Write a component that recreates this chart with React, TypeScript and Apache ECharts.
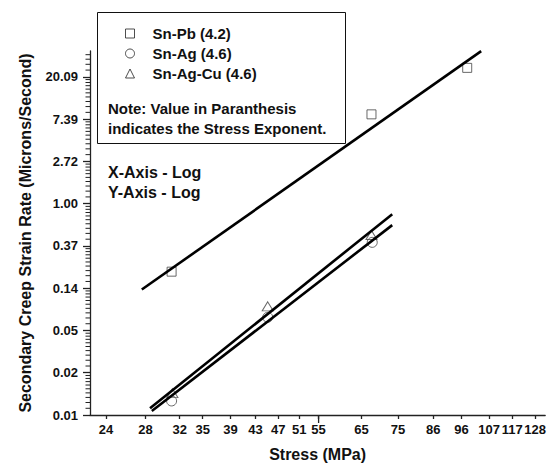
import React, { useEffect, useRef } from "react";
import * as echarts from "echarts";

// Measured creep data (stress in MPa, secondary creep strain rate in microns/second)
const pbStress = [31.0, 67.6, 98.2];
const pbRate = [0.2, 8.26, 24.8];
const agStress = [31.0, 45.1, 67.8];
const agRate = [0.0094, 0.068, 0.4];
const agCuStress = [31.1, 45.1, 67.6];
const agCuRate = [0.0113, 0.088, 0.476];

// Power-law fit lines (end points)
const pbFitStress = [27.6, 103.7];
const pbFitRate = [0.131, 36.9];
const agCuFitStress = [28.5, 73.3];
const agCuFitRate = [0.0079, 0.778];
const agFitStress = [28.7, 73.3];
const agFitRate = [0.0074, 0.601];

// Axis ticks
const xTickLabels = [24, 28, 32, 35, 39, 43, 47, 51, 55, 65, 75, 86, 96, 107, 117, 128];
const xLongTick = [55];
const yTickExponents = [-5, -4, -3, -2, -1, 0, 1, 2, 3];

const seriesNames = ["Sn-Pb (4.2)", "Sn-Ag (4.6)", "Sn-Ag-Cu (4.6)"];

const FONT = "Arial, 'Liberation Sans', Helvetica, sans-serif";

const toLn = (xs: number[], ys: number[]) => xs.map((x, i) => [Math.log(x), Math.log(ys[i])]);

const X_MIN = Math.log(22.55);
const X_MAX = Math.log(133.1);
const Y_MIN = -5;
const Y_MAX = 3.61;

// Linear subdivisions between successive powers of e, in log space
const yMinorTicks: number[] = [];
yTickExponents.forEach((n) => {
  const a = Math.exp(n);
  const b = Math.exp(n + 1);
  for (let j = 1; j <= 9; j++) {
    const t = Math.log(a + (j * (b - a)) / 10);
    if (t <= Y_MAX) yMinorTicks.push(t);
  }
});

export default function App() {
  const ref = useRef<HTMLDivElement>(null);

  useEffect(() => {
    if (!ref.current) return;
    const chart = echarts.init(ref.current, null, { renderer: "svg" });

    const markerStyle = {
      color: "rgba(0,0,0,0)",
      borderColor: "#444",
      borderWidth: 1,
    };
    const fitStyle = { color: "#000", width: 2.6 };
    const tickLabelStyle = {
      color: "#111",
      fontSize: 13,
      fontWeight: "bold" as const,
      fontFamily: FONT,
    };
    const axisLineStyle = { color: "#222", width: 1.3 };

    chart.setOption({
      animation: false,
      backgroundColor: "#fff",
      grid: { left: 90, right: 3, top: 51, bottom: 48, containLabel: false },
      xAxis: {
        type: "value",
        min: X_MIN,
        max: X_MAX,
        position: "bottom",
        name: "Stress (MPa)",
        nameLocation: "middle",
        nameGap: 31,
        nameTextStyle: { color: "#111", fontSize: 16, fontWeight: "bold", fontFamily: FONT },
        axisLine: { show: true, onZero: false, lineStyle: axisLineStyle },
        axisTick: {
          show: true,
          length: 4,
          customValues: xTickLabels.map(Math.log),
          lineStyle: axisLineStyle,
        },
        axisLabel: {
          show: true,
          margin: 8,
          customValues: xTickLabels.map(Math.log),
          formatter: (v: number) => String(Math.round(Math.exp(v))),
          ...tickLabelStyle,
        },
        splitLine: { show: false },
      },
      yAxis: {
        type: "value",
        min: Y_MIN,
        max: Y_MAX,
        position: "left",
        name: "Secondary Creep Strain Rate (Microns/Second)",
        nameLocation: "middle",
        nameGap: 57,
        nameTextStyle: { color: "#111", fontSize: 16, fontWeight: "bold", fontFamily: FONT },
        axisLine: { show: true, onZero: false, lineStyle: axisLineStyle },
        axisTick: {
          show: true,
          length: 7,
          customValues: yTickExponents,
          lineStyle: axisLineStyle,
        },
        axisLabel: {
          show: true,
          margin: 12,
          customValues: yTickExponents,
          formatter: (v: number) => Math.exp(v).toFixed(2),
          ...tickLabelStyle,
        },
        splitLine: { show: false },
      },
      legend: {
        orient: "vertical",
        left: 125,
        top: 26,
        padding: 0,
        itemWidth: 9,
        itemHeight: 9,
        itemGap: 5,
        selectedMode: false,
        textStyle: {
          color: "#111",
          fontSize: 15,
          fontWeight: "bold",
          fontFamily: FONT,
          lineHeight: 14,
          padding: [0, 0, 0, 13],
        },
        data: [
          { name: seriesNames[0], icon: "rect", itemStyle: { color: "#fff", borderColor: "#222", borderWidth: 1 } },
          { name: seriesNames[1], icon: "circle", itemStyle: { color: "#fff", borderColor: "#222", borderWidth: 1 } },
          { name: seriesNames[2], icon: "triangle", itemStyle: { color: "#fff", borderColor: "#222", borderWidth: 1 } },
        ],
      },
      graphic: [
        {
          type: "rect",
          shape: { x: 97.5, y: 12.5, width: 248, height: 131 },
          style: { fill: "none", stroke: "#111", lineWidth: 1 },
          silent: true,
        },
        {
          type: "text",
          x: 108,
          y: 108,
          style: {
            text: "Note: Value in Paranthesis",
            fill: "#111",
            font: `bold 15px ${FONT}`,
            verticalAlign: "middle",
          },
        },
        {
          type: "text",
          x: 108,
          y: 128,
          style: {
            text: "indicates the Stress Exponent.",
            fill: "#111",
            font: `bold 15px ${FONT}`,
            verticalAlign: "middle",
          },
        },
        {
          type: "text",
          x: 108,
          y: 172,
          style: { text: "X-Axis - Log", fill: "#111", font: `bold 16px ${FONT}`, verticalAlign: "middle" },
        },
        {
          type: "text",
          x: 108,
          y: 192,
          style: { text: "Y-Axis - Log", fill: "#111", font: `bold 16px ${FONT}`, verticalAlign: "middle" },
        },
      ],
      series: [
        // minor ticks along the rate axis
        {
          name: "y minor ticks",
          type: "custom",
          silent: true,
          clip: false,
          data: yMinorTicks.map((v) => [X_MIN, v]),
          renderItem: (_params: any, api: any) => {
            const p = api.coord([api.value(0), api.value(1)]);
            return {
              type: "line",
              shape: { x1: p[0] - 4.5, y1: p[1], x2: p[0], y2: p[1] },
              style: { stroke: "#222", lineWidth: 1 },
            };
          },
        },
        // longer tick at 55 MPa
        {
          name: "x long tick",
          type: "custom",
          silent: true,
          clip: false,
          data: xLongTick.map((v) => [Math.log(v), Y_MIN]),
          renderItem: (_params: any, api: any) => {
            const p = api.coord([api.value(0), api.value(1)]);
            return {
              type: "line",
              shape: { x1: p[0], y1: p[1], x2: p[0], y2: p[1] + 8 },
              style: { stroke: "#222", lineWidth: 1.3 },
            };
          },
        },
        {
          name: seriesNames[0],
          type: "scatter",
          symbol: "rect",
          symbolSize: 9,
          itemStyle: markerStyle,
          data: toLn(pbStress, pbRate),
        },
        {
          name: seriesNames[1],
          type: "scatter",
          symbol: "circle",
          symbolSize: 10,
          itemStyle: markerStyle,
          data: toLn(agStress, agRate),
        },
        {
          name: seriesNames[2],
          type: "scatter",
          symbol: "triangle",
          symbolSize: [11, 9],
          itemStyle: markerStyle,
          data: toLn(agCuStress, agCuRate),
        },
        {
          name: "Sn-Pb fit",
          type: "line",
          symbol: "none",
          clip: false,
          lineStyle: fitStyle,
          data: toLn(pbFitStress, pbFitRate),
        },
        {
          name: "Sn-Ag-Cu fit",
          type: "line",
          symbol: "none",
          clip: false,
          lineStyle: fitStyle,
          data: toLn(agCuFitStress, agCuFitRate),
        },
        {
          name: "Sn-Ag fit",
          type: "line",
          symbol: "none",
          clip: false,
          lineStyle: fitStyle,
          data: toLn(agFitStress, agFitRate),
        },
      ],
    });

    return () => chart.dispose();
  }, []);

  return (
    <div
      ref={ref}
      style={{ position: "fixed", left: 0, top: 0, width: 549, height: 467, background: "#fff" }}
    />
  );
}
